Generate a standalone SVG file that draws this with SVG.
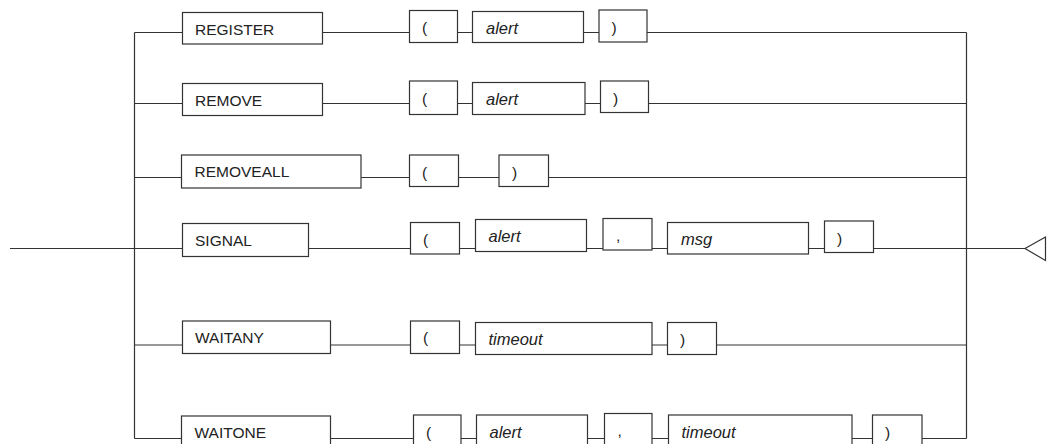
<svg xmlns="http://www.w3.org/2000/svg" width="1051" height="444" viewBox="0 0 1051 444">
<style>
.b{fill:#fff;stroke:#333;stroke-width:1.2}
.c{fill:none;stroke:#333;stroke-width:1.2}
.k{font-family:"Liberation Sans",Arial,sans-serif;font-size:15.5px;fill:#222}
.v{font-family:"Liberation Sans",Arial,sans-serif;font-size:16.5px;font-style:italic;fill:#222}
</style>
<g id="connectors">
<path class="c" d="M10 248.5H134.5M134.5 32.5V438.5M966.5 32.5V438.5M966.5 248.5H1025"/>
<path class="c" d="M134.5 32.5H182.5M322.5 32.5H409.5M457.5 32.5H472.5M583.5 32.5H599M647 32.5H966.5"/>
<path class="c" d="M134.5 103.5H182.5M322.5 103.5H409.5M457.5 103.5H472.5M585 103.5H600.5M648.5 103.5H966.5"/>
<path class="c" d="M134.5 177.5H181.5M361 177.5H409.5M458.5 177.5H499M548.5 177.5H966.5"/>
<path class="c" d="M134.5 248.5H182.5M308.5 248.5H410.5M459.5 248.5H475.5M586.5 248.5H603M652 248.5H667.5M808.5 248.5H824.5M873.5 248.5H966.5"/>
<path class="c" d="M134.5 345H182.5M330.5 345H410.5M459.5 345H475.5M652 345H667.5M716.5 345H966.5"/>
<path class="c" d="M134.5 438.5H181.5M330.5 438.5H413.5M461 438.5H476.5M587.5 438.5H604.5M652 438.5H668.5M852 438.5H872.5M922 438.5H966.5"/>
<polygon class="b" points="1045.5,237 1025,248.5 1045.5,260.5"/>
</g>
<g id="register"><rect class="b" x="182.5" y="12.5" width="140" height="31.5"/><text class="k" x="195" y="34.5">REGISTER</text></g>
<g id="r1-lp"><rect class="b" x="409.5" y="10.5" width="48" height="32"/><text class="k" x="422" y="33">(</text></g>
<g id="r1-alert"><rect class="b" x="472.5" y="11.5" width="111" height="31"/><text class="v" x="486" y="33.5">alert</text></g>
<g id="r1-rp"><rect class="b" x="599" y="10" width="48" height="32"/><text class="k" x="611.5" y="32.5">)</text></g>

<g id="remove"><rect class="b" x="182.5" y="83.5" width="140" height="32"/><text class="k" x="195" y="105.5">REMOVE</text></g>
<g id="r2-lp"><rect class="b" x="409.5" y="81" width="48" height="33.5"/><text class="k" x="422" y="104">(</text></g>
<g id="r2-alert"><rect class="b" x="472.5" y="82.5" width="112.5" height="32"/><text class="v" x="486" y="104.5">alert</text></g>
<g id="r2-rp"><rect class="b" x="600.5" y="81" width="48" height="31.5"/><text class="k" x="613" y="103.5">)</text></g>

<g id="removeall"><rect class="b" x="181.5" y="155" width="179.5" height="33"/><text class="k" x="194.5" y="177">REMOVEALL</text></g>
<g id="r3-lp"><rect class="b" x="409.5" y="155" width="49" height="31.5"/><text class="k" x="422" y="177.5">(</text></g>
<g id="r3-rp"><rect class="b" x="499" y="155" width="49.5" height="31.5"/><text class="k" x="512" y="177.5">)</text></g>

<g id="signal"><rect class="b" x="182.5" y="223.5" width="126" height="33"/><text class="k" x="195" y="245.5">SIGNAL</text></g>
<g id="r4-lp"><rect class="b" x="410.5" y="222.5" width="49" height="31.5"/><text class="k" x="423" y="244.5">(</text></g>
<g id="r4-alert"><rect class="b" x="475.5" y="219.5" width="111" height="32"/><text class="v" x="488.5" y="242">alert</text></g>
<g id="r4-comma"><rect class="b" x="603" y="218.5" width="49" height="31.5"/><text class="k" x="616" y="240.5">,</text></g>
<g id="r4-msg"><rect class="b" x="667.5" y="222.5" width="141" height="31.5"/><text class="v" x="681" y="244.5">msg</text></g>
<g id="r4-rp"><rect class="b" x="824.5" y="221" width="49" height="31.5"/><text class="k" x="837" y="243.5">)</text></g>

<g id="waitany"><rect class="b" x="182.5" y="321" width="148" height="32.5"/><text class="k" x="195" y="343">WAITANY</text></g>
<g id="r5-lp"><rect class="b" x="410.5" y="321" width="49" height="32.5"/><text class="k" x="423" y="343">(</text></g>
<g id="r5-timeout"><rect class="b" x="475.5" y="322.5" width="176.5" height="32"/><text class="v" x="488.5" y="344.5">timeout</text></g>
<g id="r5-rp"><rect class="b" x="667.5" y="322.5" width="49" height="32"/><text class="k" x="680" y="345">)</text></g>

<g id="waitone"><rect class="b" x="181.5" y="416" width="149" height="33"/><text class="k" x="194.5" y="438">WAITONE</text></g>
<g id="r6-lp"><rect class="b" x="413.5" y="415" width="47.5" height="33"/><text class="k" x="426" y="437.5">(</text></g>
<g id="r6-alert"><rect class="b" x="476.5" y="415" width="111" height="33"/><text class="v" x="489.5" y="437.5">alert</text></g>
<g id="r6-comma"><rect class="b" x="604.5" y="413.5" width="47.5" height="33"/><text class="k" x="617.5" y="435.5">,</text></g>
<g id="r6-timeout"><rect class="b" x="668.5" y="415" width="183.5" height="33"/><text class="v" x="681.5" y="437.5">timeout</text></g>
<g id="r6-rp"><rect class="b" x="872.5" y="415" width="49.5" height="33"/><text class="k" x="885" y="437.5">)</text></g>
</svg>
